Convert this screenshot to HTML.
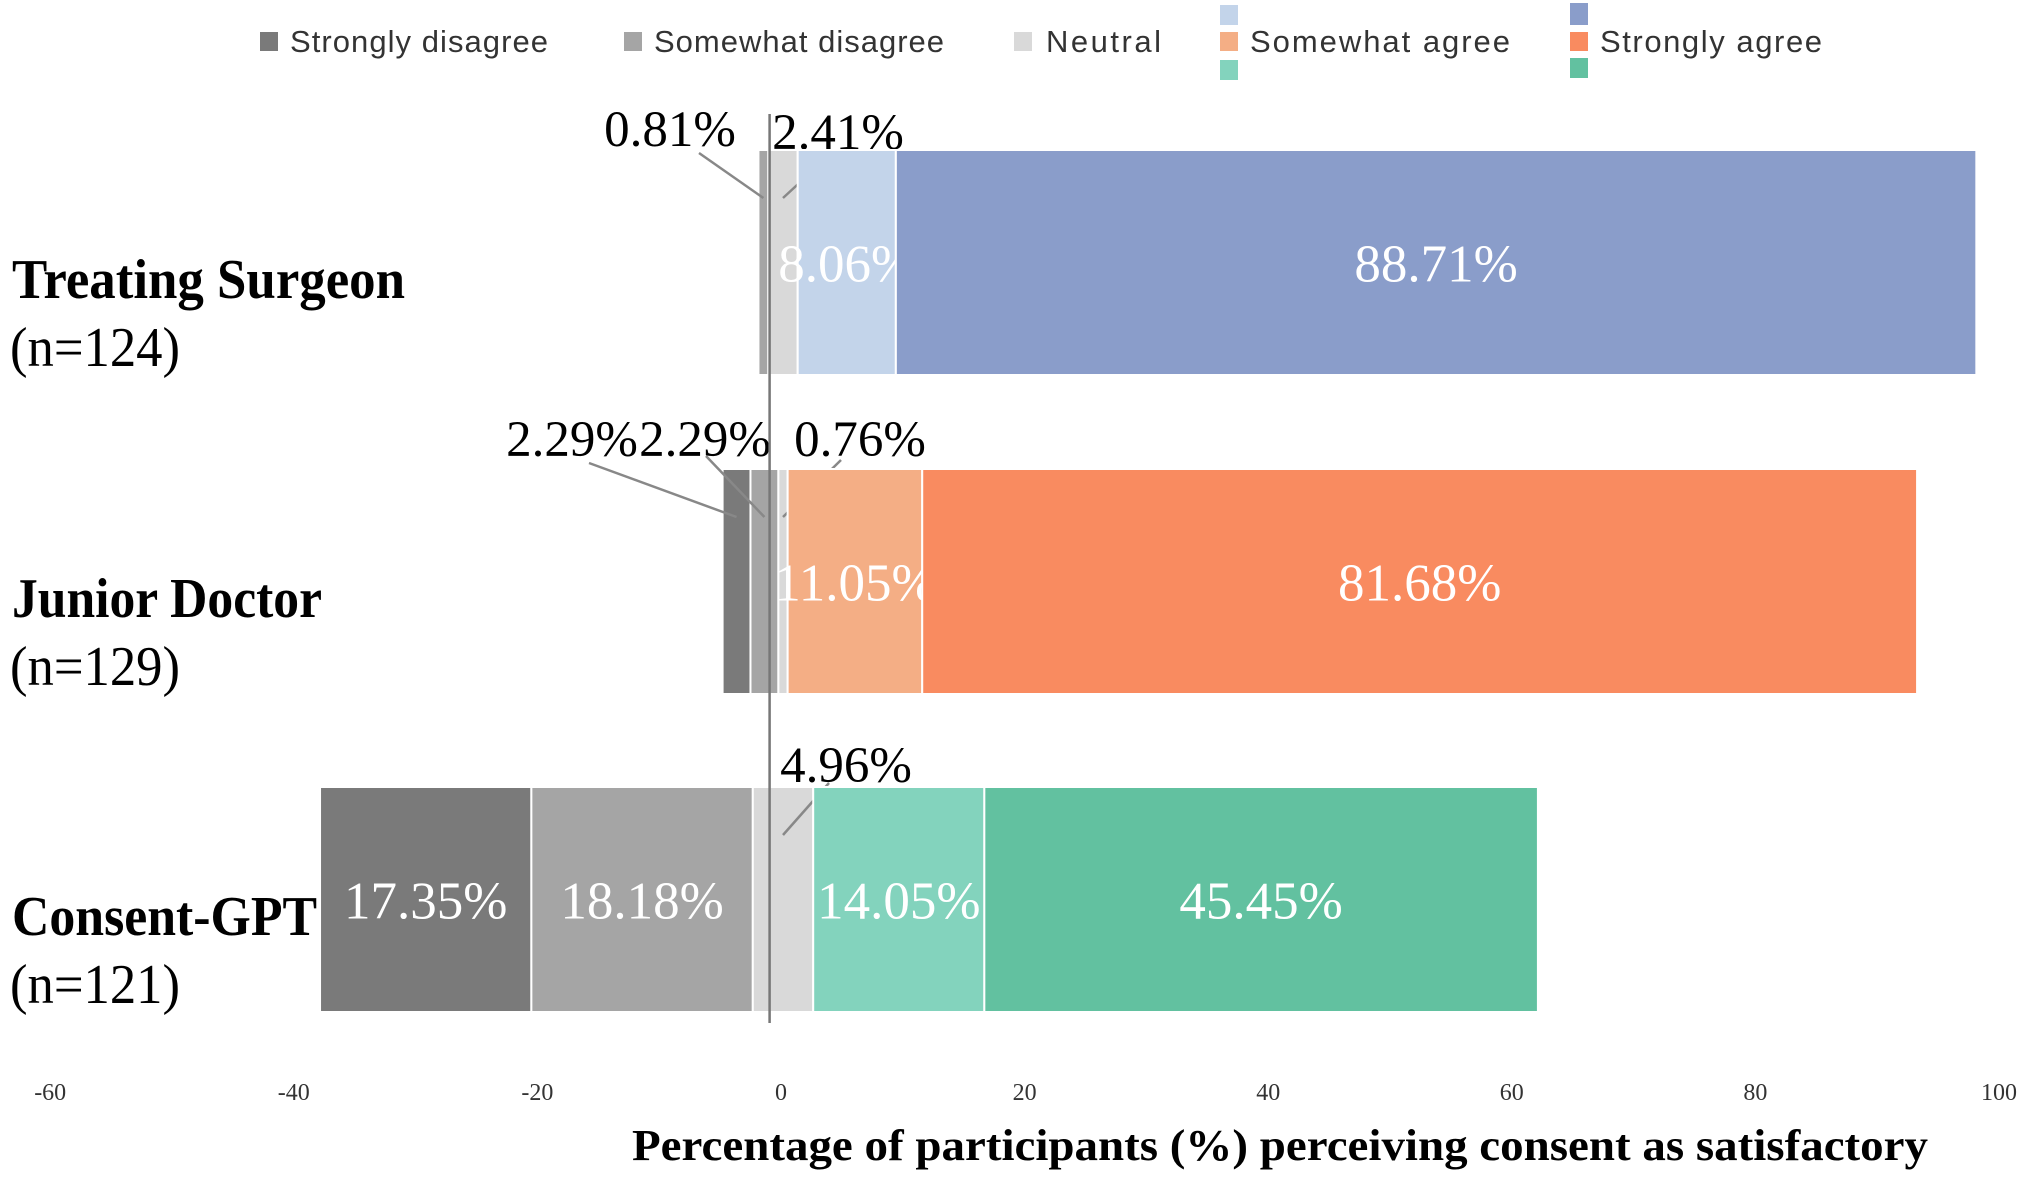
<!DOCTYPE html>
<html><head><meta charset="utf-8"><style>
html,body{margin:0;padding:0;background:#fff;}
svg{display:block;}
</style></head><body>
<svg id="chart" width="2030" height="1178" viewBox="0 0 2030 1178" xmlns="http://www.w3.org/2000/svg">
<g id="legend" font-family="Liberation Sans, sans-serif" font-size="31" fill="#333">
  <g><rect x="260" y="32" width="18" height="19" fill="#7a7a7a"/><text x="290" y="52" textLength="258">Strongly disagree</text></g>
  <g><rect x="624" y="32" width="18" height="19" fill="#a5a5a5"/><text x="654" y="52" textLength="290">Somewhat disagree</text></g>
  <g><rect x="1014" y="32" width="18" height="19" fill="#d9d9d9"/><text x="1046" y="52" textLength="115">Neutral</text></g>
  <g><rect x="1220" y="5" width="18" height="20" fill="#c3d4ea"/><rect x="1220" y="32" width="18" height="19" fill="#f4ae85"/><rect x="1220" y="60" width="18" height="20" fill="#83d3bd"/><text x="1250" y="52" textLength="260">Somewhat agree</text></g>
  <g><rect x="1570" y="3" width="18" height="22" fill="#8a9dca"/><rect x="1570" y="32" width="18" height="19" fill="#f98b60"/><rect x="1570" y="58" width="18" height="20" fill="#62c1a0"/><text x="1600" y="52" textLength="222">Strongly agree</text></g>
</g>
<g id="bars"></g>
<g id="axis"></g>
</svg>
<script>
const categories = ["Treating Surgeon", "Junior Doctor", "Consent-GPT"];
const sampleSizes = ["(n=124)", "(n=129)", "(n=121)"];
const stronglyDisagree = [0, 2.29, 17.35];
const somewhatDisagree = [0.81, 2.29, 18.18];
const neutral = [2.41, 0.76, 4.96];
const somewhatAgree = [8.06, 11.05, 14.05];
const stronglyAgree = [88.71, 81.68, 45.45];
const tickValues = [-60, -40, -20, 0, 20, 40, 60, 80, 100];

const NS = "http://www.w3.org/2000/svg";
const X0 = 783, PX = 12.18;
function x(v){ return X0 + v*PX; }
const barTops = [150, 469, 787], barH = 225;
function y(i){ return barTops[i]; }
const palettes = [
  ["#7a7a7a","#a5a5a5","#d9d9d9","#c3d4ea","#8a9dca"],
  ["#7a7a7a","#a5a5a5","#d9d9d9","#f4ae85","#f98b60"],
  ["#7a7a7a","#a5a5a5","#d9d9d9","#83d3bd","#62c1a0"]
];
const segNames = ["strongly-disagree","somewhat-disagree","neutral","somewhat-agree","strongly-agree"];
const catWidths = [393, 310, 305];
// outside label placement (layout only): [labelX, labelY, lineStartX, lineStartY]
const outsidePos = {
  "0-1":[670,146,699,153], "0-2":[838,149,822,162],
  "1-0":[572,456,589,463], "1-1":[705,456,706,456], "1-2":[860,456,841,460],
  "2-2":[846,782,829,783]
};
function mk(tag, attrs, parent){ const e=document.createElementNS(NS,tag); for(const k in attrs) e.setAttribute(k,attrs[k]); parent.appendChild(e); return e; }
const bars = document.getElementById("bars");
const axis = document.getElementById("axis");

categories.forEach((cat,i)=>{
  const vals=[stronglyDisagree[i],somewhatDisagree[i],neutral[i],somewhatAgree[i],stronglyAgree[i]];
  let start = -(vals[0]+vals[1]+vals[2]/2);
  const g = mk("g",{},bars);
  
  
  vals.forEach((v,j)=>{
    const x1=x(start), x2=x(start+v);
    start += v;
    if(v<=0) return;
    const r = mk("rect",{x:x1,y:y(i),width:Math.max(0,x2-x1),height:barH,fill:palettes[i][j],stroke:"#fff","stroke-width":2},g);
    
    
    const cx=(x1+x2)/2;
    const label = v.toFixed(2)+"%";
    const key=i+"-"+j;
    if(outsidePos[key]){
      const p=outsidePos[key];
      const ln = mk("line",{x1:p[2],y1:p[3],x2:cx,y2:y(i)+48,stroke:"#888","stroke-width":2.5},g);
      
      
      const t = mk("text",{x:p[0],y:p[1],"text-anchor":"middle","font-family":"Liberation Serif, serif","font-size":51,fill:"#000"},g);
      t.textContent=label;
      
      
    } else {
      const t = mk("text",{x:cx,y:y(i)+barH/2+19,"text-anchor":"middle","font-family":"Liberation Serif, serif","font-size":53,fill:"#fff"},g);
      t.textContent=label;
      
      
    }
  });
  const c = mk("text",{x:12,y:y(i)+148,"font-family":"Liberation Serif, serif","font-size":56,"font-weight":"bold",fill:"#000",textLength:catWidths[i],lengthAdjust:"spacingAndGlyphs"},axis);
  c.textContent=cat;
  
  
  const n = mk("text",{x:10,y:y(i)+216,"font-family":"Liberation Serif, serif","font-size":56,fill:"#000",textLength:170,lengthAdjust:"spacingAndGlyphs"},axis);
  n.textContent=sampleSizes[i];
  
  
});
const zl = mk("line",{x1:x(-1.1),y1:114,x2:x(-1.1),y2:1023,stroke:"#777","stroke-width":2.5},axis);


tickValues.forEach(v=>{
  const t = mk("text",{x:x(v)-2,y:1100,"text-anchor":"middle","font-family":"Liberation Serif, serif","font-size":24,fill:"#333"},axis);
  t.textContent=String(v);
  
  
});
const at = mk("text",{x:632,y:1160,"font-family":"Liberation Serif, serif","font-size":44,"font-weight":"bold",fill:"#000",textLength:1296,lengthAdjust:"spacingAndGlyphs"},axis);
at.textContent="Percentage of participants (%) perceiving consent as satisfactory";


</script>
</body></html>
